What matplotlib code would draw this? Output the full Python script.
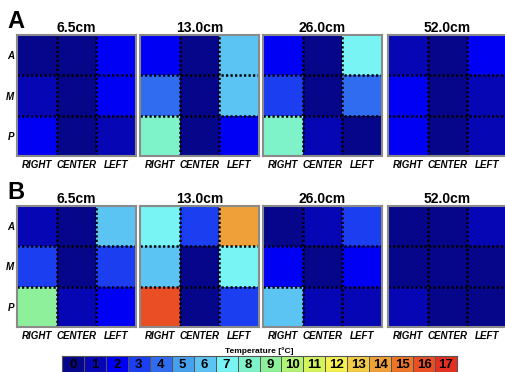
import matplotlib
matplotlib.use('Agg')
import matplotlib.pyplot as plt
import numpy as np
from matplotlib.colors import ListedColormap, BoundaryNorm

plt.rcParams['font.family'] = ['Liberation Sans', 'DejaVu Sans']

# temperature bins 0..17 and their colours
levels = list(range(18))
bin_colors = ['#06068a', '#0606b4', '#0000f4', '#1a3ef0', '#2f6cf0', '#46a0ee',
              '#5cc4f2', '#78f4f4', '#7ef2c8', '#8ef09a', '#b2f274', '#d4f45c',
              '#f4f050', '#f2cc44', '#f0a038', '#ee7428', '#ea4e24', '#e43020']

distances = ['6.5cm', '13.0cm', '26.0cm', '52.0cm']
col_labels = ['RIGHT', 'CENTER', 'LEFT']
row_labels = ['A', 'M', 'P']

# panel A (rows A, M, P ; columns RIGHT, CENTER, LEFT)
temps_A = [
    [[0, 0, 2], [1, 0, 2], [2, 0, 1]],
    [[2, 0, 6], [4, 0, 6], [8, 0, 2]],
    [[2, 0, 7], [3, 0, 4], [8, 1, 0]],
    [[1, 0, 2], [2, 0, 1], [2, 0, 1]],
]
# panel B
temps_B = [
    [[1, 0, 6], [3, 0, 3], [9, 1, 2]],
    [[7, 3, 14], [6, 0, 7], [16, 0, 3]],
    [[0, 1, 3], [2, 0, 2], [6, 1, 1]],
    [[0, 0, 1], [0, 0, 0], [1, 0, 0]],
]

cmap = ListedColormap(bin_colors)
norm = BoundaryNorm(np.arange(-0.5, 18.5, 1), cmap.N)

W, H = 505, 372
fig = plt.figure(figsize=(W / 100, H / 100), dpi=100)

lefts = [17, 140, 263, 388]
pw, ph = 119, 121
row_tops = [35, 206]

for r, (letter, temps) in enumerate([('A', temps_A), ('B', temps_B)]):
    top = row_tops[r]
    for c, (dist, grid) in enumerate(zip(distances, temps)):
        ax = fig.add_axes([lefts[c] / W, 1 - (top + ph) / H, pw / W, ph / H])
        ax.imshow(np.array(grid), cmap=cmap, norm=norm, aspect='auto',
                  interpolation='nearest')
        for k in (0.5, 1.5):
            ax.axhline(k, color='black', lw=1.8, ls=(0, (0.9, 0.9)))
            ax.axvline(k, color='black', lw=1.8, ls=(0, (0.9, 0.9)))
        ax.set_xticks(range(3))
        ax.set_xticklabels(col_labels, fontsize=7, fontweight='bold', style='italic')
        ax.set_yticks(range(3))
        if c == 0:
            ax.set_yticklabels(row_labels, fontsize=7, fontweight='bold', style='italic')
        else:
            ax.set_yticklabels([])
        ax.tick_params(length=0, pad=3)
        ax.tick_params(axis='y', pad=2)
        for s in ax.spines.values():
            s.set_color('#8a8a8a')
            s.set_linewidth(1.5)
        ax.set_title(dist, fontsize=10, fontweight='bold', pad=2)
    fig.text(7 / W, 1 - (top - 7) / H, letter, fontsize=17, fontweight='bold',
             va='baseline', ha='left')

# colour bar
cax = fig.add_axes([62 / W, 0, (457 - 62) / W, 16 / H])
cax.pcolormesh(np.arange(19) - 0.5, [0, 1], np.array([levels]), cmap=cmap, norm=norm,
               edgecolors='#555555', linewidth=0.6)
for v in levels:
    cax.text(v, 0.45, str(v), ha='center', va='center', fontsize=9.5,
             fontweight='bold', color='black')
cax.set_xlim(-0.5, 17.5)
cax.set_ylim(0, 1)
cax.set_xticks([])
cax.set_yticks([])
for s in cax.spines.values():
    s.set_color('#555555')
    s.set_linewidth(0.8)
fig.text((62 + 457) / 2 / W, 1 - 353 / H, 'Temperature [°C]', ha='center',
         va='baseline', fontsize=6, fontweight='bold')

fig.savefig('out.png', dpi=100)
